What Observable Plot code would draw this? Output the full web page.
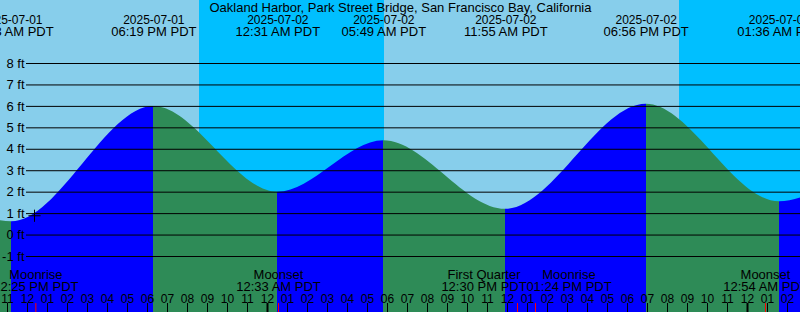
<!DOCTYPE html>
<html>
<head>
<meta charset="utf-8">
<script src="https://cdn.jsdelivr.net/npm/d3@7"></script>
<script src="https://cdn.jsdelivr.net/npm/@observablehq/plot@0.6"></script>
<style>
html, body { margin: 0; padding: 0; background: #87CEEB; overflow: hidden; }
#chart svg { display: block; }
</style>
</head>
<body>
<div id="chart"></div>
<script>
// ---- data (local PDT wall-clock times) ----
const title = "Oakland Harbor, Park Street Bridge, San Francisco Bay, California";
const viewStart = "2025-07-01T10:39";
const viewEnd = "2025-07-03T02:39";

const tideTimes = ["2025-07-01T04:55", "2025-07-01T11:13", "2025-07-01T18:19", "2025-07-02T00:31",
                   "2025-07-02T05:49", "2025-07-02T11:55", "2025-07-02T18:56", "2025-07-03T01:36",
                   "2025-07-03T06:40"];
const tideHeights = [4.4, 0.62, 6.0, 2.0, 4.4, 1.2, 6.1, 1.55, 4.5];

const moonTimes = ["2025-07-01T12:25", "2025-07-02T00:33", "2025-07-02T12:30", "2025-07-02T13:24", "2025-07-03T00:54"];
const moonNames = ["Moonrise", "Moonset", "First Quarter", "Moonrise", "Moonset"];

const nightStarts = ["2025-07-01T20:36", "2025-07-02T20:36"];
const nightEnds = ["2025-07-02T05:51", "2025-07-03T05:51"];

const nowTime = "2025-07-01T12:21";
const nowHeight = 0.9;

const heightTicks = [-1, 0, 1, 2, 3, 4, 5, 6, 7, 8];

// ---- colours ----
const DAY = "#87CEEB", NIGHT = "#00BFFF", RISING = "#0000FF", FALLING = "#2E8B57";

// ---- prep ----
const P = s => new Date(s + ":00Z");
const W = 800, H = 312;
const xDomain = [P(viewStart), P(viewEnd)];
const xOpts = {type: "utc", domain: xDomain, range: [0, W]};
const xs = Plot.scale({x: xOpts});

const tides = tideTimes.map((s, i) => ({t: P(s), h: tideHeights[i]}));
const visTides = tides.filter(d => d.t >= xDomain[0] && d.t <= xDomain[1]);
const nights = nightStarts.map((s, i) => ({a: P(s), b: P(nightEnds[i])}));
const hours = d3.utcHour.range(xDomain[0], xDomain[1]);
const midnights = hours.filter(d => d.getUTCHours() === 0);

const fmtDate = d3.utcFormat("%Y-%m-%d");
const fmtTime = d3.utcFormat("%I:%M %p PDT");
const fmtHour = d3.utcFormat("%I");

// moon events, labels pushed apart when they would overlap
const moon = moonTimes.map((s, i) => ({t: P(s), name: moonNames[i]}));
const labelW = 85;
const lpx = moon.map(d => xs.apply(d.t));
for (let i = 1; i < lpx.length; i++) {
  const gap = lpx[i] - lpx[i - 1];
  if (gap < labelW) { const s = (labelW - gap) / 2; lpx[i - 1] -= s; lpx[i] += s; }
}
moon.forEach((d, i) => d.lx = xs.invert(lpx[i]));

const font = "'Liberation Sans', Arial, Helvetica, sans-serif";

const plot = Plot.plot({
  width: W, height: H, margin: 0,
  x: {...xOpts, axis: null},
  y: {domain: [-1, 8], range: [256, 63], axis: null},
  style: {fontFamily: font, fontSize: "13px", background: DAY, overflow: "hidden", color: "black"},
  marks: [
    Plot.rect(nights, {x1: "a", x2: "b", fill: NIGHT}),
    Plot.areaY(tides, {x: "t", y1: -6, y2: "h", curve: "monotone-x", fill: "url(#tideFill)", clip: true}),
    Plot.ruleY(heightTicks, {y: d => d, insetLeft: 26, stroke: "black", strokeWidth: 1}),
    Plot.text(heightTicks, {y: d => d, frameAnchor: "left", dx: 24, textAnchor: "end", text: d => `${d} ft`, fill: "black", fontSize: 13}),
    Plot.dot([{t: P(nowTime), h: nowHeight}], {x: "t", y: "h", symbol: "plus", r: 4, stroke: "black", strokeWidth: 1}),
    // title and tide event labels
    Plot.text([title], {frameAnchor: "top", dy: 11, lineAnchor: "bottom", text: d => d, fill: "black", fontSize: 13}),
    Plot.text(visTides, {x: "t", frameAnchor: "top", dy: 23, lineAnchor: "bottom", text: d => fmtDate(d.t), fill: "black", fontSize: 12}),
    Plot.text(visTides, {x: "t", frameAnchor: "top", dy: 35, lineAnchor: "bottom", text: d => fmtTime(d.t), fill: "black", fontSize: 13}),
    // moon labels
    Plot.text(moon, {x: "lx", frameAnchor: "bottom", dy: -34, lineAnchor: "bottom", text: "name", fill: "black", fontSize: 13}),
    Plot.text(moon, {x: "lx", frameAnchor: "bottom", dy: -22, lineAnchor: "bottom", text: d => fmtTime(d.t), fill: "black", fontSize: 13}),
    // hour axis
    Plot.text(hours, {x: d => d, frameAnchor: "bottom", dy: -10, lineAnchor: "bottom", text: d => fmtHour(d), fill: "black", fontSize: 12}),
    Plot.ruleX(hours, {x: d => d, insetTop: 303, stroke: "black", strokeWidth: 1}),
    Plot.ruleX(midnights, {x: d => d, insetTop: 303, stroke: "black", strokeWidth: 2}),
    Plot.ruleX(moon, {x: "t", insetTop: 303, stroke: "red", strokeWidth: 1})
  ]
});

// gradient fill: blue while rising, green while falling
const ns = "http://www.w3.org/2000/svg";
const defs = document.createElementNS(ns, "defs");
const lg = document.createElementNS(ns, "linearGradient");
lg.setAttribute("id", "tideFill");
lg.setAttribute("gradientUnits", "userSpaceOnUse");
lg.setAttribute("x1", 0); lg.setAttribute("x2", W);
lg.setAttribute("y1", 0); lg.setAttribute("y2", 0);
const clamp = v => Math.max(0, Math.min(1, v));
for (let i = 0; i < tides.length - 1; i++) {
  const a = tides[i], b = tides[i + 1];
  const col = b.h > a.h ? RISING : FALLING;
  for (const t of [a.t, b.t]) {
    const st = document.createElementNS(ns, "stop");
    st.setAttribute("offset", clamp(xs.apply(t) / W));
    st.setAttribute("stop-color", col);
    lg.appendChild(st);
  }
}
defs.appendChild(lg);
plot.insertBefore(defs, plot.firstChild);
document.getElementById("chart").appendChild(plot);
</script>
</body>
</html>
